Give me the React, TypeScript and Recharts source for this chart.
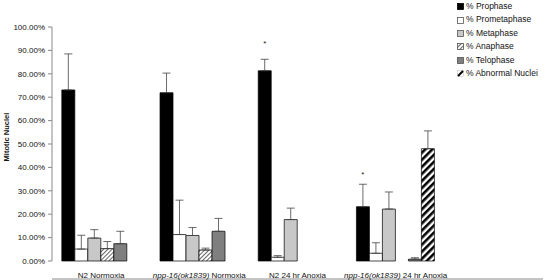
import React from "react";
import {
  ComposedChart,
  Bar,
  XAxis,
  YAxis,
  ErrorBar,
  LabelList,
} from "recharts";

const categories = [
  "N2 Normoxia",
  "npp-16(ok1839) Normoxia",
  "N2 24 hr Anoxia",
  "npp-16(ok1839) 24 hr Anoxia",
  "",
];
const prophase = [73.1, 71.9, 81.3, 23.2, null];
const prophaseErr = [15.4, 8.4, 4.9, 9.6, null];
const prometaphase = [5.1, 11.3, 1.6, 3.3, null];
const prometaphaseErr = [5.9, 14.7, 0.7, 4.5, null];
const metaphase = [9.8, 10.9, 17.7, 22.2, null];
const metaphaseErr = [3.6, 3.4, 4.9, 7.3, null];
const anaphase = [5.3, 4.7, 0, 0, null];
const anaphaseErr = [3.0, 0.8, null, null, null];
const telophase = [7.4, 12.7, 0, 0.8, null];
const telophaseErr = [5.3, 5.5, null, 0.6, null];
const abnormal = [0, 0, 0, 48.0, null];
const abnormalErr = [null, null, null, 7.6, null];
const stars = [null, null, 93.0, 37.0, null];
const yTicks = [0, 10, 20, 30, 40, 50, 60, 70, 80, 90, 100];
const boundaryTicks = [0, 1, 2, 3, 4, 5];

const seriesNames = [
  "% Prophase",
  "% Prometaphase",
  "% Metaphase",
  "% Anaphase",
  "% Telophase",
  "% Abnormal Nuclei",
];

const FONT = "Arial, 'Liberation Sans', sans-serif";

const pair = (e: number | null) => (e == null ? null : [0, e]);

const data = categories.map((c, i) => ({
  cat: c,
  idx: i + 0.5,
  prophase: prophase[i],
  prophaseErr: pair(prophaseErr[i]),
  prometaphase: prometaphase[i],
  prometaphaseErr: pair(prometaphaseErr[i]),
  metaphase: metaphase[i],
  metaphaseErr: pair(metaphaseErr[i]),
  anaphase: anaphase[i],
  anaphaseErr: pair(anaphaseErr[i]),
  telophase: telophase[i],
  telophaseErr: pair(telophaseErr[i]),
  abnormal: abnormal[i],
  abnormalErr: pair(abnormalErr[i]),
  star: stars[i],
}));

const fills = [
  "#000000",
  "#ffffff",
  "#c8c8c8",
  "url(#hatchLight)",
  "#7f7f7f",
  "url(#hatchBold)",
];
const keys = [
  "prophase",
  "prometaphase",
  "metaphase",
  "anaphase",
  "telophase",
  "abnormal",
];

const CatTick = (props: any) => {
  const { x, y, payload } = props;
  const label: string = payload.value || "";
  const m = label.match(/^(npp-16\(ok1839\))(.*)$/);
  return (
    <text
      x={x}
      y={y}
      dy={9}
      textAnchor="middle"
      fontFamily={FONT}
      fontSize={8}
      fill="#111"
    >
      {m ? (
        <>
          <tspan fontStyle="italic">{m[1]}</tspan>
          <tspan>{m[2]}</tspan>
        </>
      ) : (
        label
      )}
    </text>
  );
};

const StarLabel = (props: any) => {
  const { x, y, width, height, index } = props;
  const s = stars[index];
  const v = prophase[index];
  if (s == null || v == null || !height) return null;
  const perUnit = height / v;
  const sy = y + height - s * perUnit;
  return (
    <text
      x={x + width / 2}
      y={sy + 3}
      textAnchor="middle"
      fontFamily={FONT}
      fontSize={8}
      fill="#222"
    >
      *
    </text>
  );
};

const LegendIcon = ({ i }: { i: number }) => {
  if (i === 5) {
    return (
      <svg width={7} height={7} style={{ display: "block" }}>
        <rect x={0.5} y={0.5} width={6} height={6} fill="#fff" stroke="#bbb" strokeWidth={0.5} />
        <line x1={1} y1={6} x2={6} y2={1} stroke="#000" strokeWidth={2} />
      </svg>
    );
  }
  return (
    <svg width={7} height={7} style={{ display: "block" }}>
      <rect
        x={0.5}
        y={0.5}
        width={6}
        height={6}
        fill={fills[i]}
        stroke={i === 0 ? "#000" : "#555"}
        strokeWidth={0.8}
      />
    </svg>
  );
};

export default function App() {
  return (
    <div
      style={{
        position: "absolute",
        left: 0,
        top: 0,
        width: 544,
        height: 280,
        background: "#fff",
        fontFamily: FONT,
      }}
    >
      <svg width={0} height={0} style={{ position: "absolute" }}>
        <defs>
          <pattern
            id="hatchLight"
            patternUnits="userSpaceOnUse"
            width={3}
            height={3}
            patternTransform="rotate(45)"
          >
            <rect width={3} height={3} fill="#fff" />
            <line x1={0.5} y1={0} x2={0.5} y2={3} stroke="#666" strokeWidth={1} />
          </pattern>
          <pattern
            id="hatchBold"
            patternUnits="userSpaceOnUse"
            width={5}
            height={5}
            patternTransform="rotate(45)"
          >
            <rect width={5} height={5} fill="#fff" />
            <line x1={1.3} y1={0} x2={1.3} y2={5} stroke="#000" strokeWidth={2.6} />
          </pattern>
        </defs>
      </svg>
      <ComposedChart
        width={544}
        height={280}
        data={data}
        margin={{ top: 27, right: 1, left: 0, bottom: 0 }}
        barCategoryGap="10%"
        barGap={0}
      >
        <XAxis
          xAxisId="bound"
          dataKey="idx"
          type="number"
          domain={[0, 5]}
          ticks={boundaryTicks}
          height={1}
          tick={false}
          tickSize={4}
          stroke="#888"
          axisLine={{ stroke: "#888" }}
          tickLine={{ stroke: "#888" }}
        />
        <XAxis
          dataKey="cat"
          height={18}
          axisLine={false}
          tickLine={false}
          interval={0}
          tick={<CatTick />}
        />
        <YAxis
          width={52}
          domain={[0, 100]}
          ticks={yTicks}
          interval={0}
          tickSize={4}
          tickMargin={3}
          tickFormatter={(v: number) => `${v.toFixed(2)}%`}
          tick={{ fontSize: 8, fontFamily: FONT, fill: "#111" }}
          axisLine={{ stroke: "#888" }}
          tickLine={{ stroke: "#888" }}
          label={{
            value: "Mitotic Nuclei",
            angle: -90,
            position: "insideLeft",
            offset: 0,
            dx: 6,
            dy: -7,
            style: {
              fontSize: 7.5,
              fontWeight: "bold",
              fontFamily: FONT,
              fill: "#111",
              textAnchor: "middle",
            },
          }}
        />
        {keys.map((k, i) => (
          <Bar
            key={k}
            dataKey={k}
            name={seriesNames[i]}
            fill={fills[i]}
            stroke="#000"
            strokeWidth={0.7}
            isAnimationActive={false}
          >
            <ErrorBar
              dataKey={`${k}Err`}
              width={4}
              stroke="#444"
              strokeWidth={0.8}
              direction="y"
            />
            {i === 0 ? <LabelList dataKey="star" content={<StarLabel />} /> : null}
          </Bar>
        ))}
      </ComposedChart>
      <div
        style={{
          position: "absolute",
          left: 457,
          top: 0,
          fontSize: 8.5,
          fontFamily: FONT,
          color: "#111",
          lineHeight: "13.4px",
        }}
      >
        {seriesNames.map((n, i) => (
          <div key={n} style={{ display: "flex", alignItems: "center", height: 13.4 }}>
            <LegendIcon i={i} />
            <span style={{ marginLeft: 2, whiteSpace: "nowrap" }}>{n}</span>
          </div>
        ))}
      </div>
    </div>
  );
}
